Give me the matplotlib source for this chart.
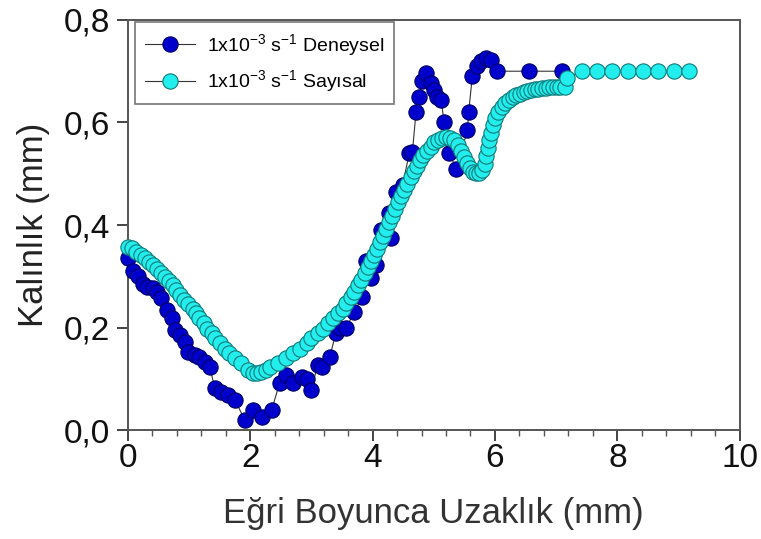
import matplotlib
matplotlib.use("Agg")
import matplotlib.pyplot as plt
from matplotlib.ticker import MultipleLocator, FuncFormatter

plt.rcParams['font.family'] = ['Liberation Sans', 'DejaVu Sans']
plt.rcParams['mathtext.fontset'] = 'custom'
plt.rcParams['mathtext.rm'] = 'Liberation Sans'
plt.rcParams['mathtext.default'] = 'regular'

# Deneysel (experimental)
exp_x = [0.0, 0.08, 0.16, 0.245, 0.31, 0.41, 0.47, 0.55, 0.64, 0.72, 0.77, 0.85, 0.93,
         0.98, 1.09, 1.17, 1.26, 1.34, 1.42, 1.53, 1.63, 1.75, 1.91, 2.04, 2.2, 2.35,
         2.48, 2.59, 2.7, 2.84, 2.92, 3.0, 3.1, 3.18, 3.3, 3.4, 3.46, 3.57, 3.7, 3.83,
         3.9, 3.98, 4.06, 4.14, 4.27, 4.3, 4.39, 4.49, 4.6, 4.65, 4.71, 4.76, 4.81, 4.88,
         4.96, 5.0, 5.06, 5.12, 5.17, 5.25, 5.37, 5.55, 5.57, 5.63, 5.71, 5.78, 5.86,
         5.94, 6.04, 6.56, 7.1]
exp_y = [0.335, 0.31, 0.30, 0.285, 0.28, 0.277, 0.27, 0.258, 0.235, 0.218, 0.195, 0.185,
         0.172, 0.152, 0.146, 0.142, 0.133, 0.123, 0.082, 0.074, 0.068, 0.059, 0.02, 0.039,
         0.026, 0.039, 0.092, 0.107, 0.092, 0.104, 0.10, 0.078, 0.127, 0.123, 0.142, 0.19,
         0.20, 0.20, 0.23, 0.26, 0.33, 0.296, 0.322, 0.39, 0.423, 0.375, 0.465, 0.478,
         0.54, 0.542, 0.62, 0.65, 0.68, 0.697, 0.677, 0.663, 0.65, 0.644, 0.60, 0.54,
         0.51, 0.585, 0.62, 0.69, 0.71, 0.72, 0.725, 0.722, 0.70, 0.70, 0.70]

# Sayisal (numerical)
sim_x = [0.0, 0.06, 0.14, 0.21, 0.28, 0.35, 0.41, 0.48, 0.55, 0.60, 0.67, 0.74, 0.79,
         0.85, 0.91, 0.98, 1.06, 1.12, 1.17, 1.24, 1.29, 1.37, 1.42, 1.50, 1.58, 1.66,
         1.75, 1.85, 1.96, 2.04, 2.11, 2.18, 2.25, 2.32, 2.45, 2.59, 2.70, 2.81, 2.92,
         3.00, 3.10, 3.19, 3.27, 3.35, 3.43, 3.51, 3.57, 3.65, 3.70, 3.76, 3.81, 3.87,
         3.92, 3.97, 4.02, 4.07, 4.12, 4.17, 4.22, 4.27, 4.32, 4.37, 4.42, 4.47, 4.52,
         4.57, 4.62, 4.67, 4.72, 4.77, 4.83, 4.89, 4.95, 5.01, 5.07, 5.13, 5.2, 5.27,
         5.33, 5.39, 5.44, 5.49, 5.54, 5.59, 5.64, 5.69, 5.74, 5.79, 5.83, 5.86, 5.88,
         5.9, 5.93, 5.96, 6.0, 6.05, 6.11, 6.17, 6.23, 6.29, 6.35, 6.41, 6.47, 6.53,
         6.59, 6.65, 6.71, 6.77, 6.83, 6.89, 6.95, 7.01, 7.07, 7.14, 7.18, 7.42, 7.67,
         7.92, 8.17, 8.42, 8.67, 8.92, 9.17]
sim_y = [0.357, 0.355, 0.348, 0.341, 0.335, 0.328, 0.322, 0.315, 0.307, 0.299, 0.291,
         0.283, 0.273, 0.263, 0.254, 0.246, 0.236, 0.228, 0.218, 0.208, 0.198, 0.189,
         0.179, 0.169, 0.159, 0.150, 0.140, 0.130, 0.117, 0.112, 0.111, 0.113, 0.118,
         0.123, 0.130, 0.140, 0.150, 0.159, 0.169, 0.179, 0.189, 0.198, 0.208, 0.218,
         0.228, 0.237, 0.247, 0.260, 0.270, 0.283, 0.293, 0.306, 0.319, 0.33, 0.342,
         0.354, 0.366, 0.379, 0.392, 0.405, 0.418, 0.431, 0.444, 0.457, 0.469, 0.481,
         0.493, 0.505, 0.516, 0.526, 0.536, 0.545, 0.553, 0.561, 0.566, 0.57, 0.572,
         0.57, 0.565, 0.556, 0.545, 0.533, 0.521, 0.511, 0.504, 0.501, 0.501, 0.508,
         0.52, 0.535, 0.55, 0.566, 0.58, 0.596, 0.609, 0.62, 0.63, 0.638, 0.644, 0.649,
         0.653, 0.656, 0.659, 0.661, 0.663, 0.665, 0.666, 0.667, 0.668, 0.669, 0.669,
         0.67, 0.67, 0.669, 0.687, 0.70, 0.70, 0.70, 0.70, 0.70, 0.70, 0.70, 0.70]

x_ticks = [0, 2, 4, 6, 8, 10]
y_ticks = [0.0, 0.2, 0.4, 0.6, 0.8]
x_label = "Eğri Boyunca Uzaklık (mm)"
y_label = "Kalınlık (mm)"
label_exp = "1x10$^{-3}$ s$^{-1}$ Deneysel"
label_sim = "1x10$^{-3}$ s$^{-1}$ Sayısal"

fig = plt.figure(figsize=(7.61, 5.39), dpi=100)
ax = fig.add_axes([0.168, 0.202, 0.804, 0.761])

ax.plot(exp_x, exp_y, '-', color='#333333', lw=0.8, marker='o', ms=11,
        mfc='#0000CC', mec='#000066', mew=0.8, label=label_exp, clip_on=False, zorder=3)
ax.plot(sim_x, sim_y, '-', color='#333333', lw=0.8, marker='o', ms=11,
        mfc='#22EEEE', mec='#107878', mew=0.8, label=label_sim, clip_on=False, zorder=4)

ax.set_xlim(0, 10)
ax.set_ylim(0, 0.8)
ax.set_xticks(x_ticks)
ax.set_yticks(y_ticks)
ax.xaxis.set_minor_locator(MultipleLocator(0.4))
ax.yaxis.set_major_formatter(FuncFormatter(lambda v, p: f"{v:.1f}".replace('.', ',')))
ax.xaxis.set_major_formatter(FuncFormatter(lambda v, p: f"{v:g}"))

for s in ax.spines.values():
    s.set_color('#555555')
    s.set_linewidth(1.4)

ax.tick_params(axis='both', which='major', direction='out', length=8, width=1.4,
               color='#444444', labelsize=24, pad=5, top=False, right=False,
               labelcolor='#111111')
ax.tick_params(axis='x', which='major', pad=1)
ax.tick_params(axis='x', which='minor', direction='out', length=4, width=1.0,
               color='#555555', top=False)

ax.set_xlabel(x_label, fontsize=25, color='#333333', labelpad=17)
ax.set_ylabel(y_label, fontsize=25, color='#222222', labelpad=10)

leg = ax.legend(loc='upper left', bbox_to_anchor=(0.012, 0.995), borderaxespad=0,
                fontsize=14, frameon=True, fancybox=False, edgecolor='#555555',
                handlelength=2.6, handletextpad=0.6, borderpad=0.5, labelspacing=0.55)
leg.get_frame().set_linewidth(1.2)

fig.savefig("out.png", dpi=100)
